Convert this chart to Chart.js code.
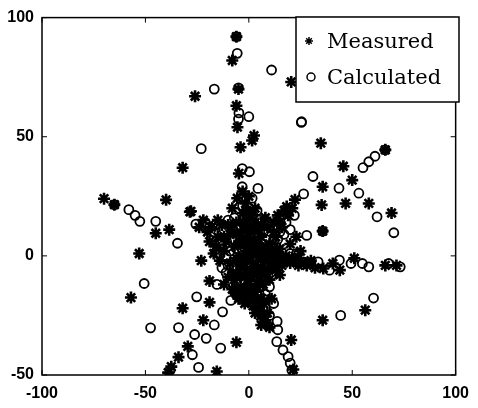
<!DOCTYPE html>
<html>
<head>
<meta charset="utf-8">
<style>
  html, body { margin: 0; padding: 0; background: #fff; }
</style>
</head>
<body>
<canvas id="chart" width="478" height="408"></canvas>
<script src="https://cdn.jsdelivr.net/npm/chart.js@4.4.1/dist/chart.umd.min.js"></script>
<script>
// axis ticks
const xTicks = [-100, -50, 0, 50, 100];
const yTicks = [-50, 0, 50, 100];

const seriesNames = ["Measured", "Calculated"];

// measured points (*)
const measured = [
  [-6, 92], [-8, 82], [-5, 70], [-6, 63], [-5.5, 54], [2.5, 50.5], [-26, 67], [20.5, 73],
  [-32, 37], [-70, 24], [-65, 21.5], [-40, 23.5], [-45, 9.5], [-38.5, 11], [-28.5, 18.5],
  [-53, 1], [-57, -17.5], [-32, -22], [-23, -2], [-19, -10.5], [-19, -19.5], [-22, -27],
  [-29.5, -38], [-34, -42.5], [-37.5, -46.5], [-39, -49], [-15.5, -48.5], [-6, -36.3],
  [20.5, -35.3], [21.5, -47.7], [5.7, -25.3], [35.7, -27], [56.3, -22.8], [66, -4],
  [71.4, -4], [51, -1], [44, -6], [40.6, -3.2], [36, -5.3], [28, -4], [35.7, 10.4],
  [35.2, 21.4], [46.8, 22], [58, 22], [69, 18], [35.7, 29], [50, 31.8], [45.7, 37.6],
  [34.8, 47.3], [22.3, 23.6], [18.3, 20.7], [66, 44.5], [-4, 45.6], [1.6, 48.4],
  [-4.8, 34.6], [-5.6, 24.2], [-1.6, 22], [-28, 18.7],
  // central cluster
  [-3, 18], [-1, 15], [2, 12], [-4, 10], [0, 8], [3, 6], [-2, 5], [1, 3], [4, 1], [-3, 0],
  [0, -1], [2, -3], [-4, -4], [1, -6], [4, -8], [-2, -9], [0, -12], [3, -15], [6, -18],
  [-6, -7], [-9, -3], [-12, 2], [-15, 8], [-18, 12], [-13, 13], [-9, 9], [-7, 4], [7, 3],
  [10, 5], [13, 8], [16, 12], [19, 17], [8, -2], [12, -3], [16, -4], [20, -3], [24, -4],
  [6, 8], [9, 12], [-6, 14], [-10, -9], [-8, -14], [5, -22], [8, -27], [10, -30], [-11, 6],
  [14, -1], [18, 0], [3, 20], [-5, -18], [-2, -20], [7, -12], [10, -10], [25, 2], [30, -2],
  [-16, 4], [-20, 10], [-22, 15],
  [-1, 11], [1, 10], [3, 14], [-2, 13], [5, 11], [-6, 9], [-3, 7], [2, 5], [5, 4], [-5, 5],
  [-1, 2], [2, 1], [6, -1], [-2, -2], [-6, -1], [3, -5], [-1, -6], [6, -5], [-4, -8], [1, -9],
  [5, -10], [-2, -14], [2, -15], [4, -12], [-7, -10], [9, -6], [13, -6], [11, 2], [15, 3],
  [20, 5], [23, 8], [-14, -2], [-17, 1], [-10, 13], [-15, 15], [-1, 19], [1, 17], [8, 16],
  [12, 14], [-12, -12], [-6, -16], [7, -20], [9, -24], [11, -18], [-3, -17], [0, -19],
  [3, -24], [6, -29], [15, -8], [27, -3], [32, -5], [-24, 12], [-19, 6], [14, 17], [17, 19],
  [21, 20], [-8, 20], [0, 25], [-3, 27],
  [10, 0], [13, 1], [17, -2], [21, -1], [24, -1], [11, -5], [8, 1], [12, 10], [15, 14],
  [6, 13], [-8, -8], [-4, -13], [0, -16], [4, -18], [8, -8], [-9, 12], [-12, 8], [2, -21]
];

// calculated points (o)
const calculated = [
  [-6, 92], [-5.6, 85], [11, 78], [-5, 70.5], [-16.7, 70], [-4.8, 60], [0, 58.4], [-5, 57.4],
  [25.4, 56], [-23, 45], [-3.2, 36.6], [0.3, 35.3], [-3.2, 29], [4.4, 28.3], [1.6, 24.2],
  [-65, 21.5], [-58, 19.4], [-55, 17], [-52.7, 14.5], [-45, 14.5], [-34.5, 5.3], [-25.6, 13.3],
  [-50.6, -11.6], [-47.5, -30.2], [-34, -30.1], [-25.2, -17.2], [-15.4, -12], [-12.7, -23.5],
  [-8.7, -18.7], [-5.6, -14.5], [-1.6, -13.8], [-16.7, -29], [-26.2, -33], [-20.6, -34.6],
  [-27.3, -41.5], [-24.3, -46.8], [-13.6, -38.7], [-38, -48],
  [13.7, -27.5], [14, -31], [13.5, -36], [16.5, -39.5], [19, -42.3], [20, -45], [20.8, -48],
  [23, 1], [26.3, -2.5], [33.5, -2.5], [39, -6], [43.8, -1.8], [49.4, -3.2], [54.9, -3.2],
  [58, -4.6], [67.6, -3.2], [73.2, -4.6], [44.4, -25], [60.3, -17.7], [28, 8.6], [35.7, 10.4],
  [62, 16.4], [70.1, 9.7], [43.6, 28.4], [53.2, 26.3], [31, 33.3], [26.5, 26], [55.2, 37],
  [58, 39.5], [61, 41.8], [65.9, 44.5], [25.5, 56.3],
  // central cluster
  [-2, 16], [1, 13], [-5, 12], [2, 9], [-1, 6], [4, 4], [-3, 2], [0, 0], [3, -2], [-5, -2],
  [1, -4], [5, -6], [-3, -7], [2, -10], [6, -13], [-1, -16], [4, -19], [8, -22], [-8, -5],
  [-11, 0], [-14, 5], [-17, 10], [-12, 11], [-8, 7], [6, 1], [9, 3], [12, 6], [15, 10],
  [18, 14], [10, -1], [14, -2], [18, -2], [22, -1], [7, 10], [-7, 16], [-11, -7], [-9, -12],
  [7, -25], [9, -29], [-13, 3], [12, 1], [16, -1], [-4, -11], [8, -16], [11, -8], [-19, 12],
  [5, 15], [-3, 21],
  [0, 11], [-3, 9], [3, 11], [-1, 4], [2, 3], [-4, -1], [-1, -3], [4, -4], [-2, -10], [0, -8],
  [7, -9], [3, -12], [-6, -12], [9, -4], [13, -4], [11, 4], [14, 7], [17, 9], [20, 11],
  [-9, 2], [-15, 1], [-16, 13], [-10, 15], [6, 5], [8, 7], [-6, 3], [2, 17], [-1, -14],
  [5, -16], [10, -13], [7, -18], [12, -20], [-7, -15], [20, 1], [24, -3], [-21, 14], [15, 15],
  [22, 17], [4, 19], [-4, 24], [-10, -4], [-13, -5], [10, -25]
];

const toXY = pts => pts.map(p => ({ x: p[0], y: p[1] }));

// box, inward ticks and the legend inside the plot
const framePlugin = {
  id: "frame",
  afterDatasetsDraw(chart) {
    const { ctx, chartArea: a, scales } = chart;
    ctx.save();
    ctx.strokeStyle = "#000";
    ctx.lineWidth = 1.5;
    ctx.strokeRect(a.left, a.top, a.right - a.left, a.bottom - a.top);

    ctx.lineWidth = 1;
    ctx.beginPath();
    xTicks.forEach(v => {
      const px = scales.x.getPixelForValue(v);
      ctx.moveTo(px, a.bottom); ctx.lineTo(px, a.bottom - 5);
      ctx.moveTo(px, a.top); ctx.lineTo(px, a.top + 5);
    });
    yTicks.forEach(v => {
      const py = scales.y.getPixelForValue(v);
      ctx.moveTo(a.left, py); ctx.lineTo(a.left + 5, py);
      ctx.moveTo(a.right, py); ctx.lineTo(a.right - 5, py);
    });
    ctx.stroke();

    // legend box
    const bx = 296, by = 17, bw = 163, bh = 85;
    ctx.fillStyle = "#fff";
    ctx.fillRect(bx, by, bw, bh);
    ctx.lineWidth = 1.5;
    ctx.strokeRect(bx, by, bw, bh);

    Chart.helpers.drawPoint(ctx, { pointStyle: "star", radius: 4, borderWidth: 1.5 }, 309, 41);
    ctx.beginPath();
    ctx.arc(311, 77, 4, 0, Math.PI * 2);
    ctx.stroke();

    ctx.fillStyle = "#000";
    ctx.font = "21px 'DejaVu Serif'";
    ctx.textBaseline = "alphabetic";
    ctx.fillText(seriesNames[0], 327, 48);
    ctx.fillText(seriesNames[1], 327, 84);
    ctx.restore();
  }
};

const tickFont = { family: "'Liberation Sans', Arial, sans-serif", size: 16, weight: "bold" };

new Chart(document.getElementById("chart"), {
  type: "scatter",
  data: {
    datasets: [
      {
        label: seriesNames[0],
        data: toXY(measured),
        pointStyle: "star",
        radius: 6,
        borderWidth: 2.6,
        borderColor: "#000",
        backgroundColor: "#000"
      },
      {
        label: seriesNames[1],
        data: toXY(calculated),
        pointStyle: "circle",
        radius: 4.5,
        borderWidth: 1.8,
        borderColor: "#000",
        backgroundColor: "rgba(0,0,0,0)"
      }
    ]
  },
  options: {
    responsive: false,
    animation: false,
    devicePixelRatio: 1,
    layout: { padding: { top: 14, right: 16, left: 0, bottom: 0 } },
    plugins: {
      legend: { display: false },
      tooltip: { enabled: false }
    },
    scales: {
      x: {
        type: "linear",
        min: -100,
        max: 100,
        afterBuildTicks: s => { s.ticks = xTicks.map(v => ({ value: v })); },
        afterFit: s => { s.height = 33; },
        grid: { display: false, drawTicks: false },
        border: { display: false },
        ticks: { color: "#000", font: tickFont, padding: 9, maxRotation: 0 }
      },
      y: {
        type: "linear",
        min: -50,
        max: 100,
        afterBuildTicks: s => { s.ticks = yTicks.map(v => ({ value: v })); },
        afterFit: s => { s.width = 42; },
        grid: { display: false, drawTicks: false },
        border: { display: false },
        ticks: { color: "#000", font: tickFont, padding: 8 }
      }
    }
  },
  plugins: [framePlugin]
});
</script>
</body>
</html>
